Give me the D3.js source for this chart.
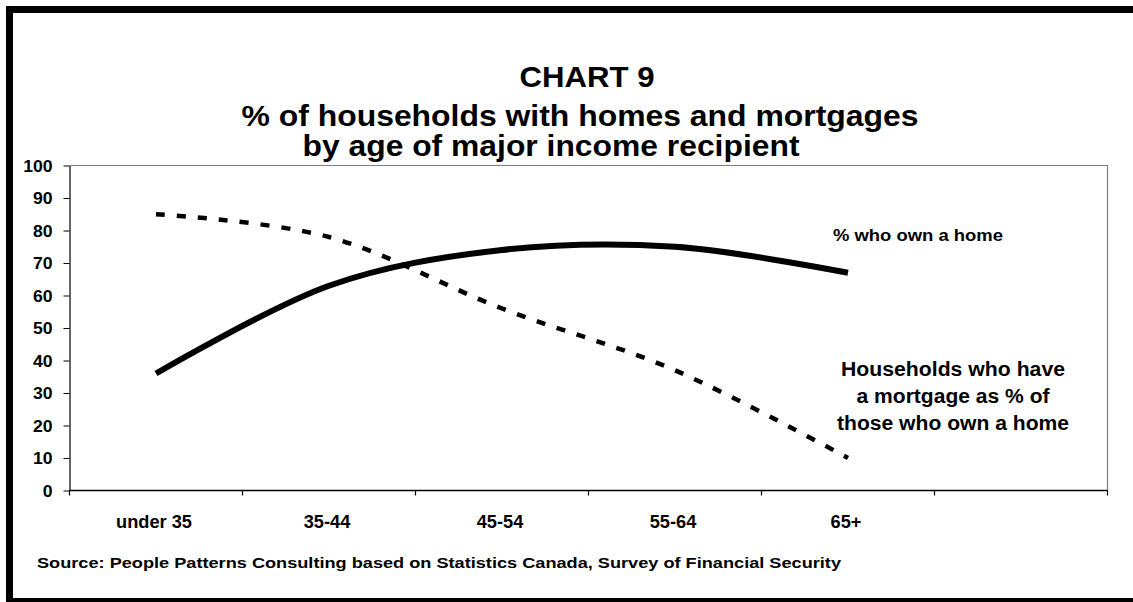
<!DOCTYPE html>
<html><head><meta charset="utf-8">
<script src="https://cdn.jsdelivr.net/npm/d3@7"></script>
<style>
body{margin:0;background:#fff}
svg{display:block;font-family:"Liberation Sans",Arial,sans-serif;font-weight:bold}
</style></head><body>
<svg id="c" width="1133" height="602"></svg>
<script>
const categories = ["under 35", "35-44", "45-54", "55-64", "65+", ""];
const ownHome = [36, 63, 74, 75, 67];
const mortgage = [85, 78, 56, 37, 10];
const yTicks = [0, 10, 20, 30, 40, 50, 60, 70, 80, 90, 100];
const titleLines = ["CHART 9", "% of households with homes and mortgages", "by age of major income recipient"];
const ownLabel = "% who own a home";
const mortgageLabel = ["Households who have", "a mortgage as % of", "those who own a home"];
const sourceText = "Source: People Patterns Consulting based on Statistics Canada, Survey of Financial Security";

const FONT = '"Liberation Sans", Arial, sans-serif';
const svg = d3.select("#c");
svg.append("rect").attr("width", 1133).attr("height", 602).attr("fill", "#fff");

function stretchTo(sel, w) {
  sel.attr("textLength", w).attr("lengthAdjust", "spacingAndGlyphs");
}
function stretchBy(sel, k) {
  sel.each(function () {
    const n = this.getComputedTextLength();
    if (n > 0) d3.select(this).attr("textLength", n * k).attr("lengthAdjust", "spacingAndGlyphs");
  });
}

// outer frame
svg.append("rect").attr("x", 9.5).attr("y", 9.5).attr("width", 1300).attr("height", 592)
  .attr("fill", "none").attr("stroke", "#000").attr("stroke-width", 7);

const M = {left: 69.5, right: 1107.5, top: 165.5, bottom: 490.5};
const x = d3.scaleBand().domain(categories).range([M.left, M.right]).padding(0);
const y = d3.scaleLinear().domain([0, 100]).range([M.bottom, M.top]);
const cx = c => x(c) + x.bandwidth() / 2;

// plot area border (top, right)
svg.append("path").attr("d", `M${M.left},${M.top}H${M.right}V${M.bottom}`)
  .attr("fill", "none").attr("stroke", "#808080").attr("stroke-width", 1.2);

// y axis
const ya = svg.append("g").attr("transform", `translate(${M.left},0)`)
  .call(d3.axisLeft(y).tickValues(yTicks).tickSize(6).tickPadding(11).tickSizeOuter(0));
ya.attr("font-family", FONT).attr("font-size", 16).attr("font-weight", "bold");
ya.select(".domain").attr("stroke", "#000").attr("stroke-width", 1.2);
ya.selectAll(".tick line").attr("stroke", "#000");
ya.selectAll(".tick text").attr("fill", "#000").attr("dy", "0.36em");
stretchBy(ya.selectAll(".tick text"), 1.1);

// x axis
const xa = svg.append("g");
xa.append("line").attr("x1", M.left).attr("x2", M.right).attr("y1", M.bottom).attr("y2", M.bottom)
  .attr("stroke", "#000").attr("stroke-width", 1.4);
const bounds = categories.map(c => x(c)).concat([x.range()[1]]);
xa.selectAll("line.tk").data(bounds).join("line").attr("class", "tk")
  .attr("x1", d => d).attr("x2", d => d).attr("y1", M.bottom).attr("y2", M.bottom + 5)
  .attr("stroke", "#000").attr("stroke-width", 1.2);
const xl = xa.selectAll("text").data(categories.filter(c => c !== "")).join("text")
  .attr("x", d => cx(d) - 2).attr("y", M.bottom + 37)
  .attr("text-anchor", "middle").attr("font-size", 17.5).attr("fill", "#000").text(d => d);
stretchBy(xl, 1.04);

// lines
const line = d3.line().x((d, i) => cx(categories[i])).y(d => y(d)).curve(d3.curveCardinal.tension(0));
svg.append("path").datum(mortgage).attr("d", line).attr("fill", "none")
  .attr("stroke", "#000").attr("stroke-width", 4.5).attr("stroke-dasharray", "9,12");
svg.append("path").datum(ownHome).attr("d", line).attr("fill", "none")
  .attr("stroke", "#000").attr("stroke-width", 6);

// title
const tBase = [87, 126, 156], tW = [135, 677, 497], tX = [587, 580, 551];
titleLines.forEach((t, i) => {
  const s = svg.append("text").attr("x", tX[i]).attr("y", tBase[i]).attr("text-anchor", "middle")
    .attr("font-size", 30).attr("fill", "#000").text(t);
  stretchTo(s, tW[i]);
});

// series labels
stretchTo(svg.append("text").attr("x", 833).attr("y", 241).attr("font-size", 16.5).attr("fill", "#000").text(ownLabel), 170);
const mW = [224, 193, 232];
mortgageLabel.forEach((t, i) => {
  const s = svg.append("text").attr("x", 953).attr("y", 376 + i * 27).attr("text-anchor", "middle")
    .attr("font-size", 19.5).attr("fill", "#000").text(t);
  stretchTo(s, mW[i]);
});

// source
stretchTo(svg.append("text").attr("x", 37).attr("y", 568).attr("font-size", 15).attr("fill", "#000").text(sourceText), 804);
</script></body></html>
